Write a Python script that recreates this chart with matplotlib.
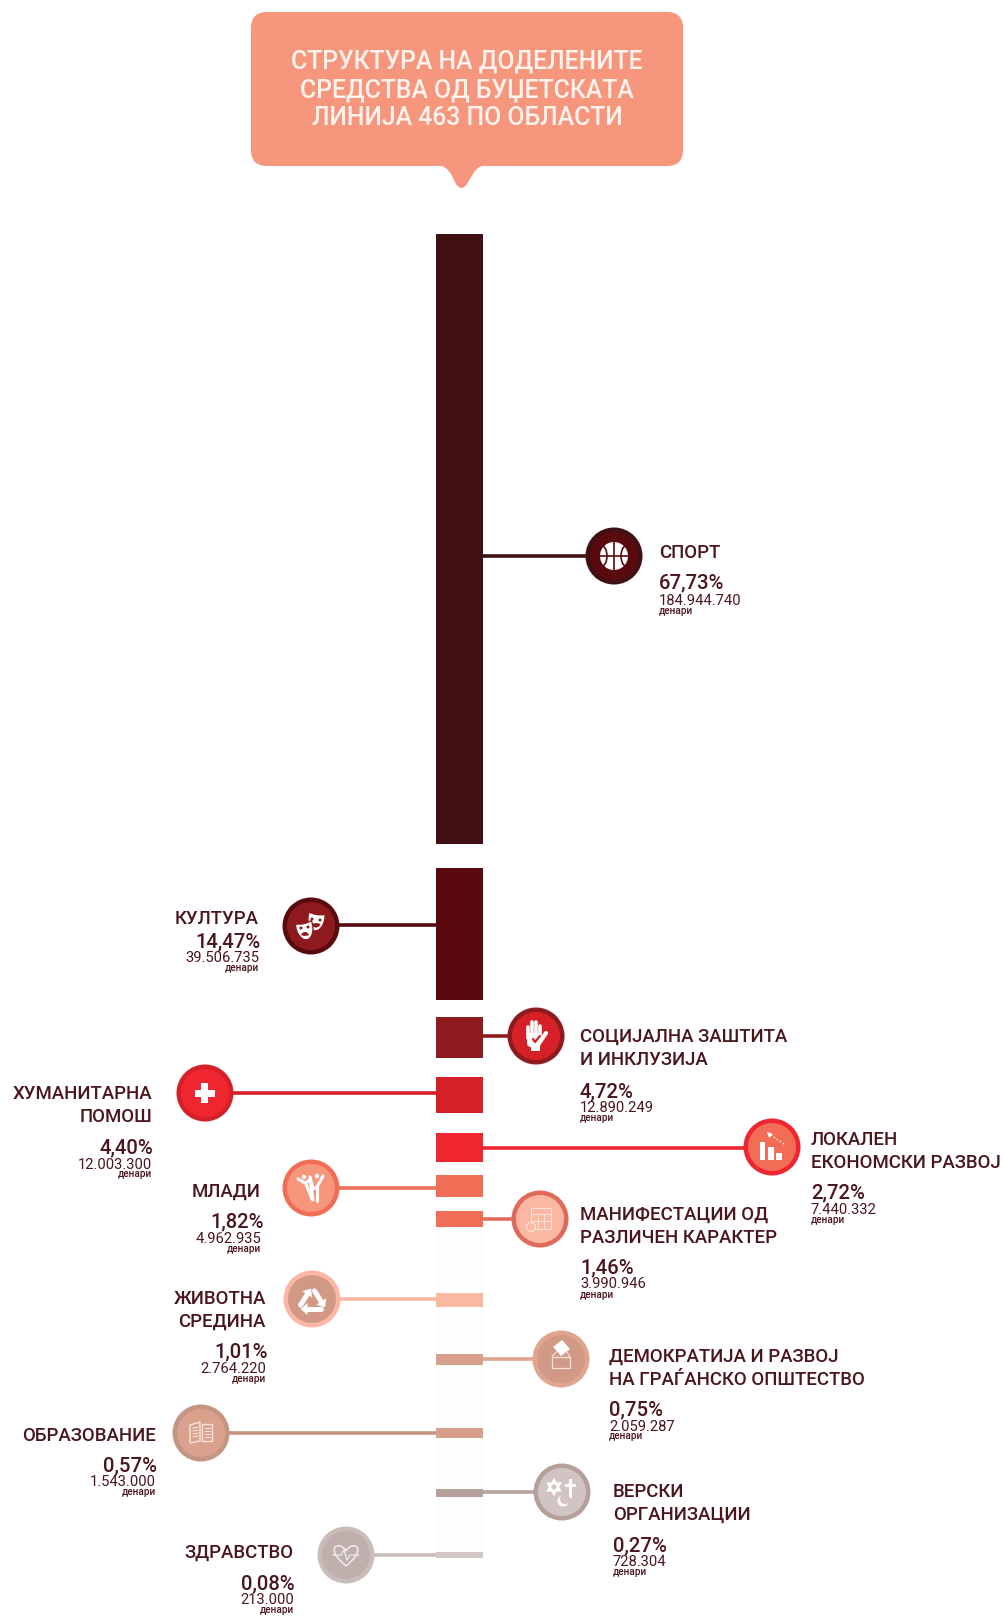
import numpy as np
import matplotlib
matplotlib.use("Agg")
import matplotlib.pyplot as plt
from matplotlib.patches import Circle, Arc, Polygon, Rectangle, Wedge, FancyBboxPatch, PathPatch
from matplotlib.path import Path

plt.rcParams['font.family'] = ['Roboto', 'DejaVu Sans']

title_lines = ["СТРУКТУРА НА ДОДЕЛЕНИТЕ", "СРЕДСТВА ОД БУЏЕТСКАТА", "ЛИНИЈА 463 ПО ОБЛАСТИ"]

names = ["СПОРТ", "КУЛТУРА", "СОЦИЈАЛНА ЗАШТИТА\nИ ИНКЛУЗИЈА", "ХУМАНИТАРНА\nПОМОШ",
         "ЛОКАЛЕН\nЕКОНОМСКИ РАЗВОЈ", "МЛАДИ", "МАНИФЕСТАЦИИ ОД\nРАЗЛИЧЕН КАРАКТЕР",
         "ЖИВОТНА\nСРЕДИНА", "ДЕМОКРАТИЈА И РАЗВОЈ\nНА ГРАЃАНСКО ОПШТЕСТВО", "ОБРАЗОВАНИЕ",
         "ВЕРСКИ\nОРГАНИЗАЦИИ", "ЗДРАВСТВО"]
shares = [67.73, 14.47, 4.72, 4.40, 2.72, 1.82, 1.46, 1.01, 0.75, 0.57, 0.27, 0.08]
amounts = [184944740, 39506735, 12890249, 12003300, 7440332, 4962935, 3990946,
           2764220, 2059287, 1543000, 728304, 213000]
# bar lengths, in picture pixels
bar_lengths = [610, 132, 41, 36, 29, 22, 16, 14, 11, 10, 8, 6]
bar_gaps = [234, 24, 17, 19, 20, 13, 14, 66, 47, 63, 51, 55]

bar_colors = ["#3f0f12", "#5a0a0e", "#8f1a1e", "#d52027", "#ef2530", "#f26d55", "#f26d55",
              "#fbb7a2", "#d6a08c", "#d69f8b", "#b5a09b", "#d3c7c4"]
ring_colors = ["#3f0f12", "#5a0a0e", "#8f1a1e", "#d52027", "#ef2530", "#f26d55", "#e06a5c",
               "#fbb7a2", "#e0a58f", "#c59584", "#b5a09b", "#c9bdba"]
disc_colors = ["#5a0a0e", "#8f1a1e", "#d52027", "#ef2530", "#f26d55", "#f6967d", "#fbb7a2",
               "#d29886", "#d29a86", "#daa18d", "#d2c4c2", "#bfb0ad"]
icons = ["ball", "masks", "hand", "plus", "chart", "dance", "calendar", "recycle", "ballot",
         "book", "faith", "heart"]

# layout of the callouts
icon_x = [614, 311, 536, 205, 772, 311, 540, 312, 561, 201, 562, 346]
icon_y = [556, 926, 1036, 1093, 1147, 1188, 1219, 1299, 1359, 1433, 1492, 1555]
line_y = [556, 925, 1036, 1093, 1148, 1188, 1219, 1299, 1359, 1433, 1492, 1555]
label_side = ["left", "right", "left", "right", "left", "right", "left", "right", "left", "right", "left", "right"]
label_x = [659, 259, 580, 152, 811, 261, 580, 266, 609, 156, 613, 294]
share_shift = [0, 2, 0, 1, 0, 3, 0, 2, 0, 1, 0, 1]
name_base = [558, 924, 1042, 1099, 1145, 1197, 1220, 1304, 1362, 1441, 1497, 1558]
share_base = [588, 947, 1097, 1153, 1198, 1227, 1273, 1357, 1415, 1471, 1551, 1589]
amount_base = [605, 962, 1112, 1169, 1214, 1243, 1288, 1373, 1431, 1486, 1566, 1604]
unit_base = [614, 971, 1121, 1177, 1223, 1252, 1298, 1382, 1439, 1495, 1575, 1613]

text_col = "#4a151b"
bar_left, bar_right = 436, 483

fig = plt.figure(figsize=(10.04, 16.16), dpi=100)
ax = fig.add_axes([0, 0, 1, 1])
ax.set_xlim(0, 1004)
ax.set_ylim(1616, 0)
ax.axis("off")


def stroke(xs, ys, col, lw=2.0, z=6):
    ax.plot(xs, ys, color=col, lw=lw, solid_capstyle="round", solid_joinstyle="round", zorder=z)


def mask(x, y, angle, bg, z):
    # one theatre mask, flat brow and pointed chin
    pts = np.array([(-8, -8), (-3, -6), (3, -6), (8, -8), (10, 0), (6, 10), (0, 10), (-6, 10), (-10, 0), (-8, -8)], float)
    a = np.radians(angle)
    rot = np.array([[np.cos(a), -np.sin(a)], [np.sin(a), np.cos(a)]])
    pts = pts @ rot.T + [x, y]
    codes = [Path.MOVETO] + [Path.CURVE4] * 9
    ax.add_patch(PathPatch(Path(pts, codes), fc="white", ec=bg, lw=1, zorder=z))


def draw_icon(kind, x, y, bg):
    w = "white"
    if kind == "ball":
        ax.add_patch(Circle((x, y), 14, fc=w, ec="none", zorder=5))
        stroke([x, x], [y - 14, y + 14], bg, 1.2)
        stroke([x - 14, x + 14], [y, y], bg, 1.2)
        ax.add_patch(Arc((x - 15, y), 16, 24, theta1=-70, theta2=70, ec=bg, lw=1.2, zorder=6))
        ax.add_patch(Arc((x + 15, y), 16, 24, theta1=110, theta2=250, ec=bg, lw=1.2, zorder=6))
    elif kind == "masks":
        mask(x + 5, y - 5, 8, bg, 5)
        mask(x - 6, y + 4, -12, bg, 6)
        for dx, dy in [(1, -7), (9, -6), (-10, 2), (-3, 1)]:
            ax.add_patch(Circle((x + dx, y + dy), 1.5, fc=bg, ec="none", zorder=7))
        ax.add_patch(Wedge((x + 5, y - 3), 4.5, 10, 170, fc=bg, ec="none", zorder=5.5))
        ax.add_patch(Wedge((x - 6, y + 10), 4, 190, 350, fc=bg, ec="none", zorder=7))
    elif kind == "hand":
        ax.add_patch(FancyBboxPatch((x - 9, y - 3), 14, 14, boxstyle="round,pad=0,rounding_size=4", fc=w, ec="none", zorder=5))
        for dx, top in [(-7.5, -9), (-3.5, -14), (0.5, -14), (4, -10)]:
            stroke([x + dx, x + dx], [y + top, y + 2], w, 2.6)
        stroke([x + 4, x + 10], [y + 6, y - 3], w, 3)
        stroke([x - 3, x - 1, x + 4], [y + 3, y + 6, y], bg, 1.6, z=7)
        ax.add_patch(Rectangle((x - 5, y + 10), 9, 5, fc=w, ec="none", zorder=5))
    elif kind == "plus":
        ax.add_patch(Rectangle((x - 10, y - 3.5), 20, 7, fc=w, ec="none", zorder=5))
        ax.add_patch(Rectangle((x - 3.5, y - 10), 7, 20, fc=w, ec="none", zorder=5))
    elif kind == "chart":
        for dx, h, bw in [(-12, 18, 5), (-4, 13, 6), (4, 7, 6)]:
            ax.add_patch(Rectangle((x + dx, y + 13 - h), bw, h, fc=w, ec="none", zorder=5))
        ax.plot([x + 12, x - 3], [y - 3, y - 13], color=w, lw=1, ls=":", zorder=5)
        ax.add_patch(Polygon([[x - 5, y - 15], [x + 1, y - 13], [x - 3, y - 9]], fc=w, ec="none", zorder=5))
    elif kind == "dance":
        stroke([x - 13, x - 6, x - 1, x + 2], [y - 9, y - 5, y - 8, y + 12], w, 2.2)
        stroke([x - 5, x + 1], [y - 4, y + 11], w, 2.2)
        stroke([x + 12, x + 6, x + 2, x - 1], [y - 12, y - 1, y + 1, y - 11], w, 2.2)
        stroke([x + 6, x + 6], [y - 1, y + 13], w, 2.2)
        ax.add_patch(Circle((x - 7, y - 11), 2.2, fc=w, ec="none", zorder=6))
        ax.add_patch(Circle((x + 6, y - 12), 2.2, fc=w, ec="none", zorder=6))
    elif kind == "calendar":
        c = "#fde4d9"
        ax.add_patch(Rectangle((x - 9, y - 11), 20, 21, fc="none", ec=c, lw=0.8, zorder=5))
        stroke([x - 9, x + 11], [y - 5, y - 5], c, 0.7)
        stroke([x - 2, x - 2], [y - 5, y + 10], c, 0.7)
        stroke([x + 4, x + 4], [y - 5, y + 10], c, 0.7)
        stroke([x - 9, x + 11], [y + 2, y + 2], c, 0.7)
        ax.add_patch(Circle((x - 9, y + 8), 4.5, fc=bg, ec=c, lw=0.9, zorder=6))
    elif kind == "recycle":
        corners = [(x, y - 12), (x + 14, y + 10), (x - 14, y + 10)]
        for j in range(3):
            a = np.array(corners[j], float)
            b = np.array(corners[(j + 1) % 3], float)
            p0 = a + (b - a) * 0.18
            p1 = a + (b - a) * 0.66
            u = (b - a) / np.hypot(*(b - a))
            n = np.array([-u[1], u[0]])
            stroke([p0[0], p1[0]], [p0[1], p1[1]], w, 3.6)
            tip = p1 + u * 7
            ax.add_patch(Polygon([p1 + n * 6, p1 - n * 6, tip], fc=w, ec="none", zorder=6))
    elif kind == "ballot":
        c = "#f6dfd6"
        ax.add_patch(Polygon([[x - 8, y - 12], [x + 1, y - 19], [x + 9, y - 10], [x, y - 3]], fc=w, ec="none", zorder=5))
        ax.add_patch(Rectangle((x - 9, y - 2), 18, 11, fc="none", ec=c, lw=0.9, zorder=5))
        stroke([x - 9, x - 5], [y - 2, y - 7], c, 0.9)
        stroke([x + 9, x + 6], [y - 2, y - 7], c, 0.9)
    elif kind == "book":
        c = "#fae4db"
        ax.add_patch(Polygon([[x - 11, y - 8], [x - 1, y - 11], [x - 1, y + 8], [x - 11, y + 10]], fc="none", ec=c, lw=1, zorder=5))
        ax.add_patch(Polygon([[x + 1, y - 9], [x + 11, y - 9], [x + 11, y + 8], [x + 1, y + 8]], fc="none", ec=c, lw=1, zorder=5))
        for dy in [-5, -2, 1, 4]:
            stroke([x - 8, x - 3], [y + dy, y + dy - 1], c, 0.8)
            stroke([x + 4, x + 9], [y + dy, y + dy], c, 0.8)
    elif kind == "faith":
        sx, sy = x - 8, y - 5
        for sgn in [1, -1]:
            ax.add_patch(Polygon([[sx, sy - sgn * 7], [sx + 6, sy + sgn * 3.5], [sx - 6, sy + sgn * 3.5]],
                                 fc="none", ec=w, lw=1.5, zorder=5))
        ax.add_patch(Rectangle((x + 7, y - 13), 3, 19, fc=w, ec="none", zorder=5))
        ax.add_patch(Rectangle((x + 3, y - 8), 11, 3, fc=w, ec="none", zorder=5))
        ax.add_patch(Circle((x + 1, y + 9), 5.5, fc=w, ec="none", zorder=5))
        ax.add_patch(Circle((x + 3, y + 7), 5, fc=bg, ec="none", zorder=6))
    elif kind == "heart":
        verts = [(x, y + 11), (x - 8, y + 4), (x - 14, y - 2), (x - 11, y - 8), (x - 7, y - 11), (x - 2, y - 8), (x, y - 4),
                 (x + 2, y - 8), (x + 7, y - 11), (x + 11, y - 8), (x + 14, y - 2), (x + 8, y + 4), (x, y + 11)]
        codes = [Path.MOVETO] + [Path.CURVE4] * 12
        ax.add_patch(PathPatch(Path(verts, codes), fc="none", ec="#f2eeed", lw=1.1, zorder=5))
        stroke([x - 13, x - 5, x - 2, x + 1, x + 4, x + 13], [y, y, y - 5, y + 5, y, y], "#f2eeed", 0.9)


# pale strip behind the smallest bars
tops = np.cumsum(np.array(bar_gaps) + np.r_[0, bar_lengths[:-1]])
ax.bar((bar_left + bar_right) / 2, tops[-1] + bar_lengths[-1] - tops[6], width=bar_right - bar_left,
       bottom=tops[6], color="#fefdfd", zorder=0)

# bars
ax.bar([(bar_left + bar_right) / 2] * len(bar_lengths), bar_lengths, width=bar_right - bar_left, bottom=tops,
       color=bar_colors, zorder=2)

# callouts
for i in range(len(names)):
    start = bar_right if icon_x[i] > bar_right else bar_left
    ax.plot([start, icon_x[i]], [line_y[i], line_y[i]], color=ring_colors[i], lw=2.6, solid_capstyle="butt", zorder=1)
    ax.add_patch(Circle((icon_x[i], icon_y[i]), 28.5, fc=ring_colors[i], ec="none", zorder=3))
    ax.add_patch(Circle((icon_x[i], icon_y[i]), 24, fc=disc_colors[i], ec="none", zorder=4))
    draw_icon(icons[i], icon_x[i], icon_y[i], disc_colors[i])

    lines = names[i].split("\n")
    for k, line in enumerate(lines):
        ax.text(label_x[i], name_base[i] + k * 23, line, ha=label_side[i], va="baseline", fontsize=13.4,
                color=text_col, fontweight="medium")
    ax.text(label_x[i] + share_shift[i], share_base[i], f"{shares[i]:.2f}".replace(".", ",") + "%", ha=label_side[i],
            va="baseline", fontsize=14.6, color=text_col, fontweight="medium")
    ax.text(label_x[i], amount_base[i], f"{amounts[i]:,}".replace(",", "."), ha=label_side[i], va="baseline",
            fontsize=10.6, color=text_col)
    ax.text(label_x[i], unit_base[i], "денари", ha=label_side[i], va="baseline", fontsize=7.2, color=text_col,
            fontweight="medium")

# title bubble
bub = "#f6967d"
ax.add_patch(FancyBboxPatch((251, 12), 432, 154, boxstyle="round,pad=0,rounding_size=16", fc=bub, ec="none", zorder=2))
ax.add_patch(PathPatch(Path([(438, 165), (446, 166), (451, 174), (456, 184), (458.5, 188), (461.5, 188), (464.5, 188),
                             (467, 184), (473, 174), (477, 166), (486, 165), (438, 165)],
                            [Path.MOVETO, Path.CURVE3, Path.CURVE3, Path.LINETO, Path.CURVE3, Path.CURVE3, Path.CURVE3,
                             Path.CURVE3, Path.LINETO, Path.CURVE3, Path.CURVE3, Path.CLOSEPOLY]),
                       fc=bub, ec="none", zorder=2))
for line, by in zip(title_lines, [68, 97, 125]):
    ax.text(467, by, line, ha="center", va="baseline", fontsize=17.8, color="#fff3ee", fontweight="medium", zorder=3)

fig.savefig("out.png", dpi=100)
